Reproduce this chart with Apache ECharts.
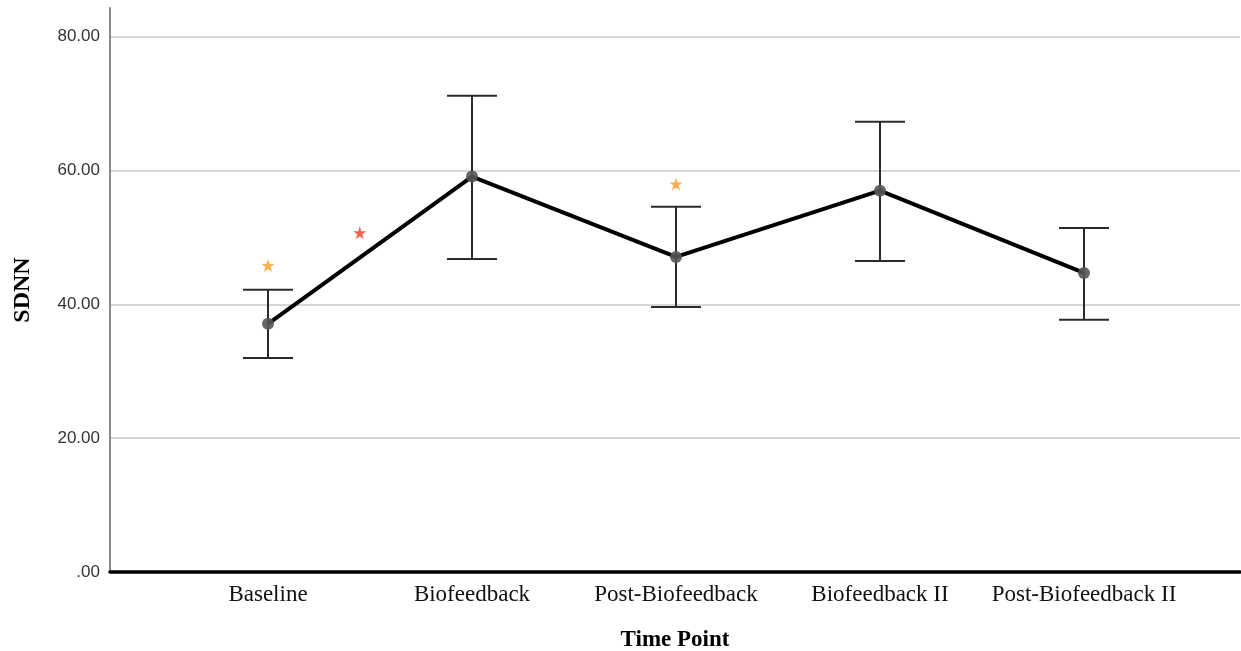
<!DOCTYPE html>
<html>
<head>
<meta charset="utf-8">
<script src="https://cdn.jsdelivr.net/npm/echarts@6/dist/echarts.min.js"></script>
<style>
  html, body { margin: 0; padding: 0; background: #fff; }
  #chart { width: 1241px; height: 651px; }
</style>
</head>
<body>
<div id="chart"></div>
<script>
// SDNN by time point: mean with error bars
const categories = ['Baseline', 'Biofeedback', 'Post-Biofeedback', 'Biofeedback II', 'Post-Biofeedback II'];
const meanValues = [37.1, 59.1, 47.1, 57.0, 44.7];
const upperValues = [42.2, 71.2, 54.6, 67.3, 51.4];
const lowerValues = [32.0, 46.8, 39.6, 46.5, 37.7];
const yTicks = [0, 20, 40, 60, 80];

// significance markers: [x position (category index), y value]
const orangeStars = [[0, 45.8], [2, 58.0]];
const redStars = [[0.45, 50.7]];

const Y_MAX = 84.3;
const STAR = 'path://M50,0 L61.8,35.4 L99,35.4 L69,57.3 L80.4,92.7 L50,70.8 L19.6,92.7 L31,57.3 L1,35.4 L38.2,35.4 Z';

const chart = echarts.init(document.getElementById('chart'), null, { renderer: 'canvas' });

const errorData = categories.map((c, i) => [i, lowerValues[i], upperValues[i]]);

chart.setOption({
  backgroundColor: '#ffffff',
  animation: false,
  grid: [
    { left: 110, right: 1, top: 8, bottom: 79, containLabel: false, outerBoundsMode: 'none' },
    { left: 166, right: 55, top: 8, bottom: 79, containLabel: false, outerBoundsMode: 'none' }
  ],
  xAxis: [
    {
      gridIndex: 0, type: 'value', min: 0, max: 1,
      axisLine: { show: true, onZero: false, lineStyle: { color: '#000', width: 3.5 } },
      axisTick: { show: false }, axisLabel: { show: false }, splitLine: { show: false },
      name: 'Time Point', nameLocation: 'middle', nameGap: 57,
      nameTextStyle: { fontFamily: 'Liberation Serif', fontWeight: 'bold', fontSize: 23, color: '#000' }
    },
    {
      gridIndex: 1, type: 'category', data: categories, boundaryGap: true,
      axisLine: { show: false }, axisTick: { show: false }, splitLine: { show: false },
      axisLabel: { interval: 0, fontFamily: 'Liberation Serif', fontSize: 23, color: '#111', margin: 11 }
    },
    {
      gridIndex: 1, type: 'value', min: -0.5, max: 4.5, show: false
    }
  ],
  yAxis: [
    {
      gridIndex: 0, type: 'value', min: 0, max: Y_MAX, interval: 20,
      axisLine: { show: true, lineStyle: { color: '#8a8a8a', width: 2 } },
      axisTick: { show: false },
      axisLabel: {
        showMaxLabel: false,
        fontFamily: 'Liberation Sans', fontSize: 17, color: '#333', margin: 10,
        formatter: v => yTicks.includes(v) ? (v === 0 ? '.00' : v.toFixed(2)) : ''
      },
      splitLine: { show: true, showMaxLine: false, lineStyle: { color: '#c8c8c8', width: 1.5 } },
      name: 'SDNN', nameLocation: 'middle', nameGap: 75, nameRotate: 90,
      nameTextStyle: { fontFamily: 'Liberation Serif', fontWeight: 'bold', fontSize: 24, color: '#000' }
    },
    {
      gridIndex: 1, type: 'value', min: 0, max: Y_MAX, show: false
    }
  ],
  series: [
    {
      type: 'custom',
      xAxisIndex: 1, yAxisIndex: 1,
      z: 2,
      data: errorData,
      renderItem: function (params, api) {
        const x = api.coord([api.value(0), api.value(1)])[0];
        const lo = api.coord([api.value(0), api.value(1)])[1];
        const hi = api.coord([api.value(0), api.value(2)])[1];
        const hw = 25;
        const style = { stroke: '#2b2b2b', lineWidth: 2 };
        return {
          type: 'group',
          children: [
            { type: 'line', shape: { x1: x, y1: lo, x2: x, y2: hi }, style: style },
            { type: 'line', shape: { x1: x - hw, y1: hi, x2: x + hw, y2: hi }, style: style },
            { type: 'line', shape: { x1: x - hw, y1: lo, x2: x + hw, y2: lo }, style: style }
          ]
        };
      }
    },
    {
      type: 'line',
      xAxisIndex: 1, yAxisIndex: 1,
      z: 3,
      data: meanValues,
      lineStyle: { color: '#000', width: 4 },
      symbol: 'circle', symbolSize: 12,
      itemStyle: { color: '#555555', opacity: 0.9 }
    },
    {
      type: 'scatter',
      xAxisIndex: 2, yAxisIndex: 1,
      z: 4,
      data: orangeStars,
      symbol: STAR, symbolSize: 13,
      itemStyle: { color: '#ff9a1f' }
    },
    {
      type: 'scatter',
      xAxisIndex: 2, yAxisIndex: 1,
      z: 4,
      data: redStars,
      symbol: STAR, symbolSize: 13,
      itemStyle: { color: '#f23b2b' }
    }
  ]
});
</script>
</body>
</html>
